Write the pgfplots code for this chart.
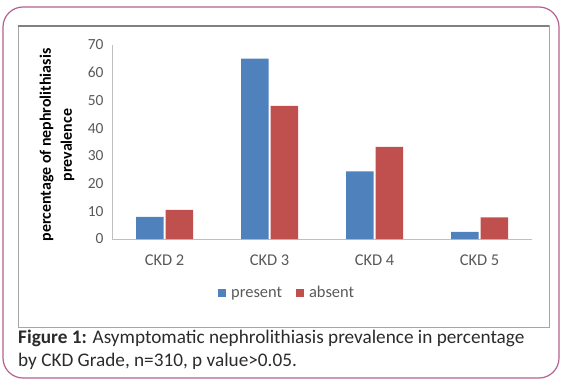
\documentclass[border=0pt]{standalone}
\usepackage{fontspec}
\setmainfont{Carlito}
\usepackage{pgfplots}
\pgfplotsset{compat=1.18}
\definecolor{cblue}{HTML}{4F81BD}
\definecolor{cred}{HTML}{C0504D}
\definecolor{axgray}{HTML}{BFBFBF}
\definecolor{tickgray}{HTML}{595959}
\definecolor{pinkb}{HTML}{B5608F}
\definecolor{captxt}{HTML}{2B2B2B}
\definecolor{framegray}{HTML}{A6A6A6}
\definecolor{frametop}{HTML}{808080}
\begin{document}
\begin{tikzpicture}[x=1bp,y=1bp]
\path[use as bounding box] (0,0) rectangle (564,382);
\draw[pinkb, line width=1.2bp, rounded corners=20bp] (3,4) rectangle (559,375);
\draw[framegray, line width=1bp] (18,55) rectangle (549,356);
\draw[frametop, line width=1.6bp] (18,356) -- (549,356);
\begin{axis}[
  at={(112bp,143bp)}, anchor=south west,
  width=420bp, height=194bp, scale only axis,
  ymin=0, ymax=70, xmin=-0.5, xmax=3.5,
  ybar, bar width=27.5bp,
  ytick={0,10,...,70},
  xtick={0,1,2,3},
  xticklabels={CKD 2,CKD 3,CKD 4,CKD 5},
  major tick length=0pt,
  axis x line*=bottom, axis y line*=left,
  axis line style={axgray, line width=1bp},
  x axis line style={-}, y axis line style={-},
  tick label style={tickgray},
  /pgf/number format/assume math mode=true,
  yticklabel style={font=\fontsize{15.5}{17}\selectfont, xshift=-5bp},
  xticklabel style={font=\fontsize{16.5}{18}\selectfont, yshift=-12bp},
  legend style={at={(0.417,-0.278)}, anchor=center, draw=none, fill=none,
    font=\fontsize{16.5}{19}\selectfont\color{tickgray}, legend columns=2,
    /tikz/every even column/.append style={column sep=12bp},
    /tikz/every odd column/.append style={column sep=3bp}},
  legend image code/.code={\fill[#1] (0bp,-4bp) rectangle (8bp,4bp);},
]
\addplot[fill=cblue, draw=none] coordinates {(0,8.0) (1,65.1) (2,24.4) (3,2.6)};
\addplot[fill=cred, draw=none] coordinates {(0,10.5) (1,48.0) (2,33.2) (3,7.8)};
\legend{present,absent}
\end{axis}
\node[rotate=90, align=center, font=\bfseries\fontsize{16}{21}\selectfont, text=black] at (57,237) {percentage of nephrolithiasis\\prevalence};
\node[anchor=west, text=captxt, font=\fontsize{19.3}{21}\selectfont, inner sep=0pt] at (18,44) {\textbf{Figure 1:} Asymptomatic nephrolithiasis prevalence in percentage};
\node[anchor=west, text=captxt, font=\fontsize{19.3}{21}\selectfont, inner sep=0pt] at (18,21) {by CKD Grade, n=310, p value>0.05.};
\end{tikzpicture}
\end{document}
